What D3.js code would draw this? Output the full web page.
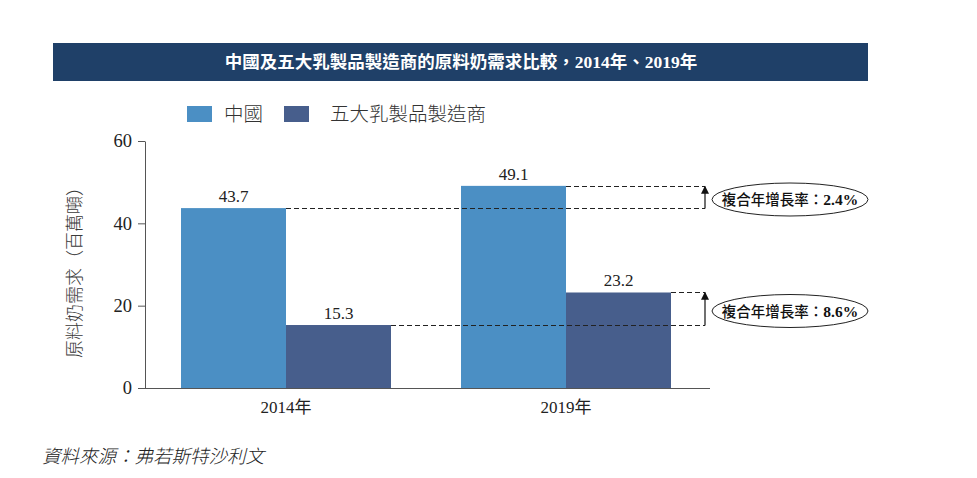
<!DOCTYPE html>
<html><head><meta charset="utf-8">
<script src="https://cdn.jsdelivr.net/npm/d3@7"></script>
<style>body{margin:0;background:#fff}</style>
</head><body>
<svg id="c" width="977" height="478"></svg>
<script>
const categories = ["2014年", "2019年"];
const seriesNames = ["中國", "五大乳製品製造商"];
const chinaValues = [43.7, 49.1];
const top5Values = [15.3, 23.2];
const yTicks = [0, 20, 40, 60];
const cagrLabels = ["2.4%", "8.6%"];
const colors = ["#4b8fc4", "#475e8c"];

const svg = d3.select("#c");
const serif = "'Liberation Serif','DejaVu Serif',serif";
const cjk = "'Liberation Serif','Noto Sans CJK TC',serif";

// title bar
svg.append("rect").attr("x", 53).attr("y", 43).attr("width", 815).attr("height", 38).attr("fill", "#1f4068");
svg.append("text").attr("x", 461).attr("y", 68).attr("text-anchor", "middle")
  .attr("fill", "#fff").attr("font-family", cjk).attr("font-weight", "bold").attr("font-size", 17.5)
  .text("中國及五大乳製品製造商的原料奶需求比較，2014年、2019年");

// legend
const leg = [{x: 187, tx: 224}, {x: 284, tx: 330}];
leg.forEach((l, i) => {
  svg.append("rect").attr("x", l.x).attr("y", 106).attr("width", 25).attr("height", 16).attr("fill", colors[i]);
  svg.append("text").attr("x", l.tx).attr("y", 121).attr("font-family", "'Noto Sans CJK TC'")
    .attr("font-weight", 300).attr("font-size", 19.5).attr("fill", "#333").text(seriesNames[i]);
});

const y = d3.scaleLinear().domain([0, 60]).range([388, 141]);
const x0 = d3.scaleBand().domain(categories).range([146, 706]).paddingInner(0.25).paddingOuter(0.125);
const x1 = d3.scaleBand().domain([0, 1]).range([0, x0.bandwidth()]);

const axisColor = "#555";
const yAxis = svg.append("g").attr("transform", "translate(145,0)")
  .call(d3.axisLeft(y).tickValues(yTicks).tickSize(7).tickSizeOuter(0));
yAxis.select(".domain").attr("stroke", axisColor);
yAxis.selectAll(".tick line").attr("stroke", axisColor);
yAxis.selectAll(".tick text").attr("font-family", serif).attr("font-size", 18.5).attr("fill", "#222").attr("x", -13);

// bars
const groups = svg.append("g").selectAll("g").data(categories).join("g")
  .attr("transform", d => `translate(${x0(d)},0)`);
groups.each(function(cat, ci) {
  const vals = [chinaValues[ci], top5Values[ci]];
  d3.select(this).selectAll("rect").data(vals).join("rect")
    .attr("x", (d, i) => x1(i)).attr("width", x1.bandwidth())
    .attr("y", d => y(d)).attr("height", d => y(0) - y(d))
    .attr("fill", (d, i) => colors[i]);
  d3.select(this).selectAll("text").data(vals).join("text")
    .attr("x", (d, i) => x1(i) + x1.bandwidth() / 2).attr("y", d => y(d) - 6)
    .attr("text-anchor", "middle").attr("font-family", serif).attr("font-size", 17).attr("fill", "#222")
    .text(d => d.toFixed(1));
});

// x axis
svg.append("line").attr("x1", 145).attr("x2", 710).attr("y1", 388.5).attr("y2", 388.5).attr("stroke", axisColor);
svg.append("g").selectAll("text").data(categories).join("text")
  .attr("x", d => x0(d) + x0.bandwidth() / 2).attr("y", 413).attr("text-anchor", "middle")
  .attr("font-family", cjk).attr("font-size", 17).attr("fill", "#222").text(d => d);

// y title
svg.append("text").attr("transform", "translate(81,268) rotate(-90)").attr("text-anchor", "middle")
  .attr("font-family", "'Noto Sans CJK TC'").attr("font-weight", 300).attr("font-size", 18).attr("fill", "#3a3a3a")
  .text("原料奶需求（百萬噸）");

// CAGR annotations
const defs = svg.append("defs");
defs.append("marker").attr("id", "arr").attr("viewBox", "0 0 10 10").attr("refX", 9).attr("refY", 5)
  .attr("markerUnits", "userSpaceOnUse").attr("markerWidth", 10).attr("markerHeight", 8).attr("orient", "auto")
  .append("path").attr("d", "M0,0 L10,5 L0,10 Z").attr("fill", "#111");

const ax = 705;
const pairs = [
  {from: chinaValues[0], fromX: x0(categories[0]) + x1(0) + x1.bandwidth(), to: chinaValues[1], toX: x0(categories[1]) + x1(0) + x1.bandwidth(), label: cagrLabels[0]},
  {from: top5Values[0], fromX: x0(categories[0]) + x1(1) + x1.bandwidth(), to: top5Values[1], toX: x0(categories[1]) + x1(1) + x1.bandwidth(), label: cagrLabels[1]}
];
pairs.forEach(p => {
  const yf = Math.round(y(p.from)) + 0.5, yt = Math.round(y(p.to)) + 0.5;
  svg.append("line").attr("x1", p.fromX).attr("x2", ax).attr("y1", yf).attr("y2", yf)
    .attr("stroke", "#222").attr("stroke-dasharray", "5,3");
  svg.append("line").attr("x1", p.toX).attr("x2", ax).attr("y1", yt).attr("y2", yt)
    .attr("stroke", "#222").attr("stroke-dasharray", "5,3");
  svg.append("line").attr("x1", ax).attr("x2", ax).attr("y1", yf).attr("y2", yt)
    .attr("stroke", "#111").attr("stroke-width", 1.2).attr("marker-end", "url(#arr)");
  const cy = (yf + yt) / 2 + 2;
  svg.append("ellipse").attr("cx", 790).attr("cy", cy).attr("rx", 78).attr("ry", 16.5)
    .attr("fill", "#fff").attr("stroke", "#222").attr("stroke-width", 1);
  const t = svg.append("text").attr("x", 790).attr("y", cy + 5.5).attr("text-anchor", "middle")
    .attr("font-size", 14.5).attr("fill", "#111");
  t.append("tspan").attr("font-family", "'Noto Sans CJK TC'").attr("font-weight", 500).text("複合年增長率：");
  t.append("tspan").attr("font-family", serif).attr("font-weight", "bold").attr("font-size", 15.5).text(p.label);
});

// source
svg.append("text").attr("x", 42).attr("y", 463).attr("font-family", "'Noto Sans CJK TC'")
  .attr("font-weight", 300).attr("font-style", "italic").attr("font-size", 18.5).attr("fill", "#222")
  .text("資料來源：弗若斯特沙利文");
</script>
</body></html>
